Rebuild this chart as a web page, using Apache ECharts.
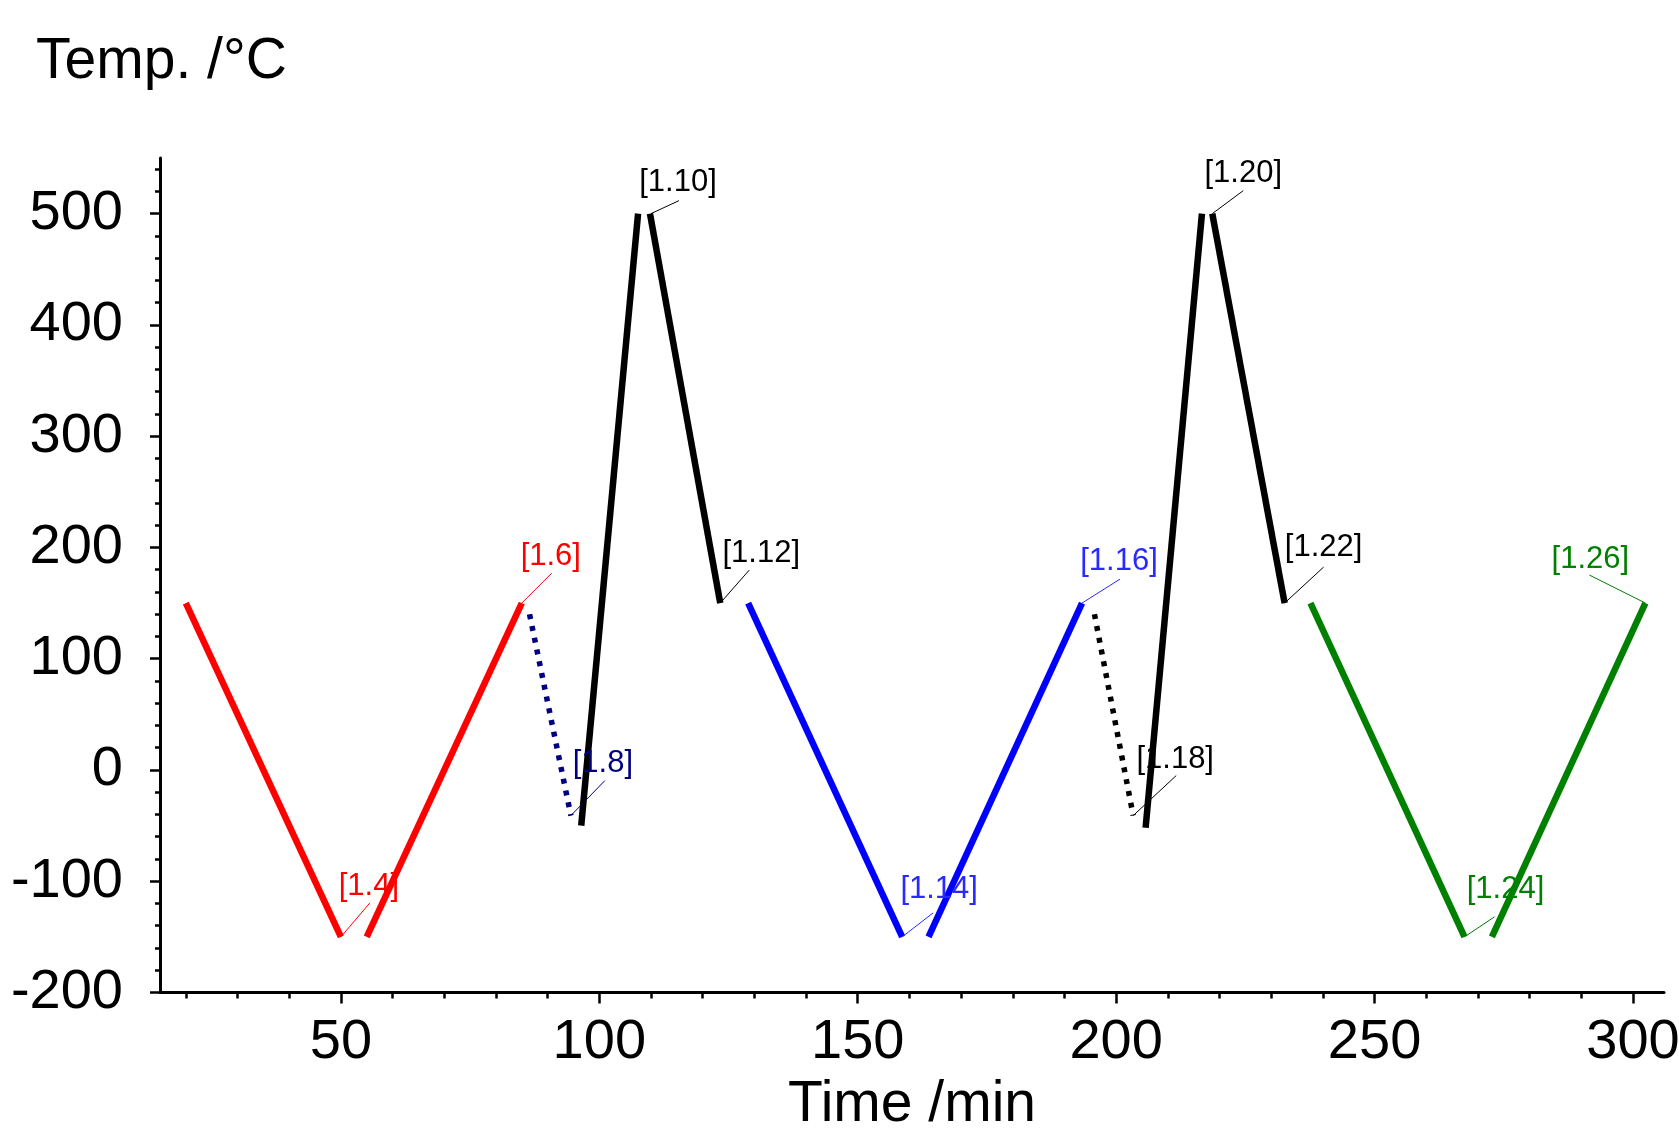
<!DOCTYPE html>
<html>
<head>
<meta charset="utf-8">
<script src="https://cdn.jsdelivr.net/npm/echarts@6.0.0/dist/echarts.min.js"></script>
<style>
  html, body { margin: 0; padding: 0; background: #fff; }
  #chart { width: 1679px; height: 1130px; }
</style>
</head>
<body>
<div id="chart"></div>
<script>
// temperature program segments: start/end time (min) and start/end temp (°C)
const segTimes = [
  [20, 50], [55, 85], [86.5, 94.5], [96.5, 107.5], [109.8, 123.4],
  [128.8, 158.6], [163.7, 193.4], [195.8, 203.3], [205.7, 216.6], [218.6, 232.6],
  [237.6, 267.4], [272.7, 302.4]
];
const segTemps = [
  [150, -150], [-150, 150], [140, -41], [-50, 500], [500, 150],
  [150, -150], [-150, 150], [140, -41], [-52, 500], [500, 150],
  [150, -150], [-150, 150]
];

// step labels and the point each one points at
const stepNames = ['[1.4]', '[1.6]', '[1.8]', '[1.10]', '[1.12]', '[1.14]', '[1.16]', '[1.18]', '[1.20]', '[1.22]', '[1.24]', '[1.26]'];
const stepTimes = [50, 85, 94.5, 110, 123.4, 158.6, 193.4, 203.3, 218.6, 232.6, 267.4, 302.4];
const stepTemps = [-150, 150, -41, 500, 150, -150, 150, -41, 500, 150, -150, 150];

// axis ticks
const xMajorTicks = [50, 100, 150, 200, 250, 300];
const xMinorTicks = [20, 30, 40, 60, 70, 80, 90, 110, 120, 130, 140, 160, 170, 180, 190,
  210, 220, 230, 240, 260, 270, 280, 290];
const yMajorTicks = [-200, -100, 0, 100, 200, 300, 400, 500];
const yMinorTicks = [-180, -160, -140, -120, -80, -60, -40, -20, 20, 40, 60, 80,
  120, 140, 160, 180, 220, 240, 260, 280, 320, 340, 360, 380, 420, 440, 460, 480, 520, 540];

// styles
const FONT = 'Arial, "Liberation Sans", sans-serif';
const segColors = ['#ff0000', '#ff0000', '#000080', '#000000', '#000000',
  '#0000ff', '#0000ff', '#000000', '#000000', '#000000', '#008000', '#008000'];
const segDotted = [false, false, true, false, false, false, false, true, false, false, false, false];
const stepColors = ['#ff0000', '#ff0000', '#000080', '#000000', '#000000',
  '#2a2aff', '#2a2aff', '#000000', '#000000', '#000000', '#008000', '#008000'];
// text centre offset from the point, px
const stepOffsets = [[28, -50], [29, -47], [32, -52], [27, -31], [41, -50], [37, -47],
  [37, -42], [42, -56], [31, -40], [39, -56], [41, -47], [-55, -44]];
// leader line end offset from the point, px
const leaderEnds = [[29, -34], [30, -30], [34, -35], [28, -13], [29, -33], [31, -24],
  [38, -24], [43, -40], [31, -23], [39, -36], [30, -20], [-56, -28]];

let chart = echarts.init(document.getElementById('chart'));

let series = segTimes.map((t, i) => ({
  type: 'line',
  xAxisIndex: 0,
  yAxisIndex: 0,
  showSymbol: false,
  silent: true,
  data: [[t[0], segTemps[i][0]], [t[1], segTemps[i][1]]],
  lineStyle: {
    color: segColors[i],
    width: segDotted[i] ? 5.5 : 6.5,
    type: segDotted[i] ? [5, 7] : 'solid'
  }
}));

//标签 + 引线
series.push({
  type: 'custom',
  xAxisIndex: 0,
  yAxisIndex: 0,
  silent: true,
  clip: false,
  z: 5,
  data: stepTimes.map((t, i) => [t, stepTemps[i]]),
  renderItem: function (params, api) {
    const i = params.dataIndex;
    const p = api.coord([api.value(0), api.value(1)]);
    const o = stepOffsets[i];
    const e = leaderEnds[i];
    return {
      type: 'group',
      children: [
        {
          type: 'line',
          shape: { x1: p[0], y1: p[1], x2: p[0] + e[0], y2: p[1] + e[1] },
          style: { stroke: stepColors[i], lineWidth: 1 }
        },
        {
          type: 'text',
          x: p[0] + o[0],
          y: p[1] + o[1],
          style: {
            text: stepNames[i],
            fill: stepColors[i],
            fontSize: 31,
            fontFamily: FONT,
            align: 'center',
            verticalAlign: 'middle'
          }
        }
      ]
    };
  }
});

const axisLineStyle = { color: '#000', width: 3 };

chart.setOption({
  animation: false,
  backgroundColor: '#fff',
  title: {
    text: 'Temp. /°C',
    left: 31,
    top: 29,
    textStyle: { fontSize: 57, fontWeight: 'normal', color: '#000', fontFamily: FONT }
  },
  grid: {
    left: 160, right: 15, top: 158, bottom: 137.5,
    outerBoundsMode: 'none'
  },
  xAxis: [
    {
      type: 'value', min: 15, max: 306, position: 'bottom',
      axisLine: { show: true, onZero: false, lineStyle: axisLineStyle },
      axisTick: { show: true, customValues: xMajorTicks, length: 11, lineStyle: { color: '#000', width: 2.5 } },
      axisLabel: { customValues: xMajorTicks, fontSize: 56, color: '#000', fontFamily: FONT, margin: 22 },
      splitLine: { show: false },
      name: 'Time /min',
      nameLocation: 'middle',
      nameGap: 84,
      nameTextStyle: { fontSize: 57, color: '#000', fontFamily: FONT }
    },
    {
      type: 'value', min: 15, max: 306, position: 'bottom',
      axisLine: { show: false, onZero: false },
      axisTick: { show: true, customValues: xMinorTicks, length: 6, lineStyle: { color: '#000', width: 2.5 } },
      axisLabel: { show: false },
      splitLine: { show: false }
    }
  ],
  yAxis: [
    {
      type: 'value', min: -200, max: 550, position: 'left',
      axisLine: { show: true, onZero: false, lineStyle: axisLineStyle },
      axisTick: { show: true, customValues: yMajorTicks, length: 10, lineStyle: { color: '#000', width: 2.5 } },
      axisLabel: { customValues: yMajorTicks, fontSize: 56, color: '#000', fontFamily: FONT, margin: 37 },
      splitLine: { show: false }
    },
    {
      type: 'value', min: -200, max: 550, position: 'left',
      axisLine: { show: false, onZero: false },
      axisTick: { show: true, customValues: yMinorTicks, length: 5, lineStyle: { color: '#000', width: 2.5 } },
      axisLabel: { show: false },
      splitLine: { show: false }
    }
  ],
  series: series
});
</script>
</body>
</html>
